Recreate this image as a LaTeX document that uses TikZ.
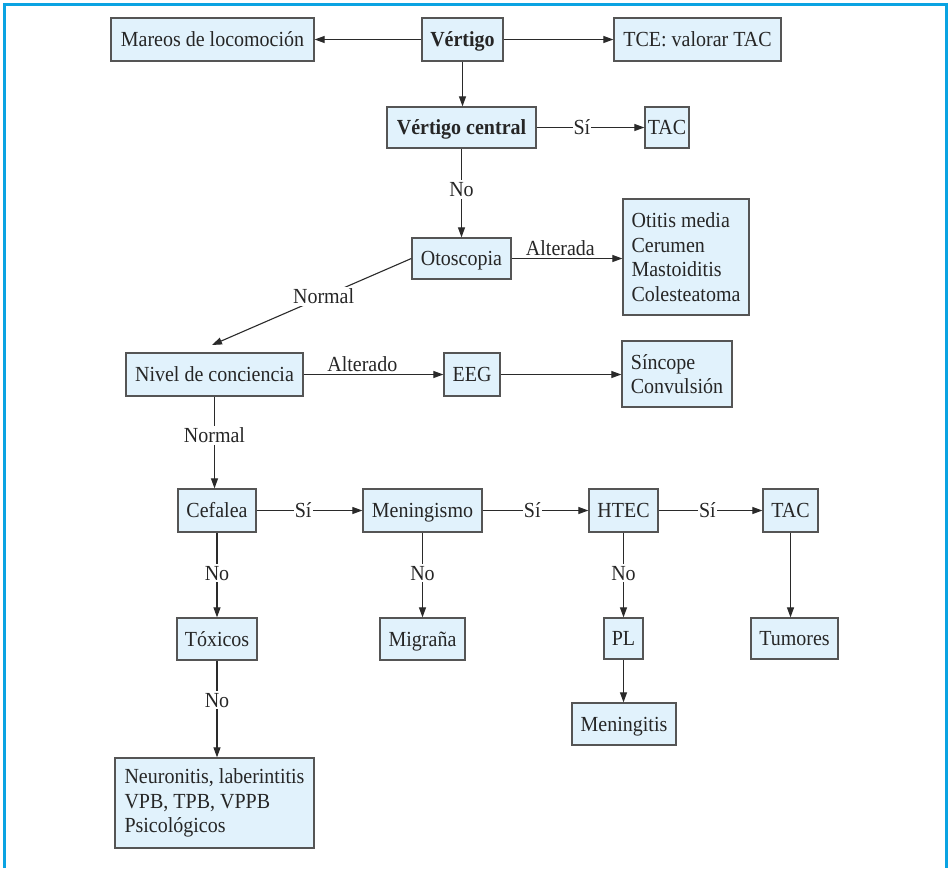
\documentclass[tikz,border=0pt]{standalone}
\usepackage{fontspec}
\setmainfont{Liberation Serif}[FakeStretch=0.93]
\usetikzlibrary{arrows.meta}
\definecolor{boxfill}{HTML}{E1F2FC}
\definecolor{boxline}{HTML}{555555}
\definecolor{frameblue}{HTML}{0AA3E2}
\definecolor{linecol}{HTML}{2A2A2A}
\begin{document}
\begin{tikzpicture}[x=1pt,y=-1pt,
  txt/.style={font=\fontsize{21.5}{24.5}\selectfont, text=black!85},
  frame/.style={txt, draw=boxline, line width=1.3pt, fill=boxfill, inner xsep=2pt, inner ysep=2pt},
  box/.style={frame, align=left},
  sbox/.style={frame, text height=14pt, text depth=0pt},
  lbl/.style={txt, fill=white, inner xsep=1pt, inner ysep=2pt},
  conn/.style={draw=linecol, line width=1.1pt},
  arr/.style={conn, -{Triangle[length=10pt,width=7pt]}}]
\useasboundingbox (0,0) rectangle (952,868);
\fill[white] (0,0) rectangle (952,868);
\draw[frameblue, line width=3pt] (4.5,868) -- (4.5,4) -- (946.5,4) -- (946.5,868);

% nodes
\node[sbox, minimum width=203pt, minimum height=43pt] (mareos) at (212.5,39.5) {Mareos de locomoción};
\node[sbox, minimum width=81pt, minimum height=43pt] (vertigo) at (462.5,39.5) {\bfseries Vértigo};
\node[sbox, minimum width=167pt, minimum height=43pt] (tce) at (697.5,39.5) {TCE: valorar TAC};
\node[sbox, minimum width=149pt, minimum height=41pt] (vcentral) at (461.5,127.5) {\bfseries Vértigo central};
\node[sbox, minimum width=44pt, minimum height=41pt] (tac1) at (667,127.5) {TAC};
\node[sbox, minimum width=99pt, minimum height=41pt] (otoscopia) at (461.5,258.5) {Otoscopia};
\node[box, minimum width=126pt, minimum height=116pt] (otitis) at (686,257) {Otitis media\\Cerumen\\Mastoiditis\\Colesteatoma};
\node[sbox, minimum width=177pt, minimum height=43pt] (nivel) at (214.5,374.5) {Nivel de conciencia};
\node[sbox, minimum width=56pt, minimum height=43pt] (eeg) at (472,374.5) {EEG};
\node[box, minimum width=110pt, minimum height=66pt] (sincope) at (677,374) {Síncope\\Convulsión};
\node[sbox, minimum width=78pt, minimum height=43pt] (cefalea) at (217,510.5) {Cefalea};
\node[sbox, minimum width=119pt, minimum height=43pt] (meningismo) at (422.5,510.5) {Meningismo};
\node[sbox, minimum width=69pt, minimum height=43pt] (htec) at (623.5,510.5) {HTEC};
\node[sbox, minimum width=55pt, minimum height=43pt] (tac2) at (790.5,510.5) {TAC};
\node[sbox, minimum width=80pt, minimum height=42pt] (toxicos) at (217,639) {Tóxicos};
\node[sbox, minimum width=85pt, minimum height=42pt] (migrana) at (422.5,639) {Migraña};
\node[sbox, minimum width=39pt, minimum height=41pt] (pl) at (623.5,638.5) {PL};
\node[sbox, minimum width=87pt, minimum height=41pt] (tumores) at (794.5,638.5) {Tumores};
\node[sbox, minimum width=104pt, minimum height=42pt] (meningitis) at (624,724) {Meningitis};
\node[box, minimum width=199pt, minimum height=90pt] (neuro) at (214.5,803) {Neuronitis, laberintitis\\VPB, TPB, VPPB\\Psicológicos};

\coordinate (nivtop) at (212,345);

% connectors
\draw[arr] (vertigo.west) -- (mareos.east);
\draw[arr] (vertigo.east) -- (tce.west);
\draw[arr] (vertigo.south) -- (vertigo.south |- vcentral.north);
\draw[arr] (vcentral.east) -- node[lbl, pos=.42] {Sí} (tac1.west);
\draw[arr] (vcentral.south) -- node[lbl, pos=.46] {No} (vcentral.south |- otoscopia.north);
\draw[arr] (otoscopia.east) -- node[txt, pos=.44, above, inner sep=2pt] {Alterada} (otoscopia.east -| otitis.west);
\draw[arr] (otoscopia.west) -- node[lbl, pos=.44] {Normal} (nivtop);
\draw[arr] (nivel.east) -- node[txt, pos=.42, above, inner sep=2pt] {Alterado} (eeg.west);
\draw[arr] (eeg.east) -- (eeg.east -| sincope.west);
\draw[arr] (nivel.south) -- node[lbl, pos=.42] {Normal} (nivel.south |- cefalea.north);
\draw[arr] (cefalea.east) -- node[lbl, pos=.44] {Sí} (meningismo.west);
\draw[arr] (meningismo.east) -- node[lbl, pos=.47] {Sí} (htec.west);
\draw[arr] (htec.east) -- node[lbl, pos=.47] {Sí} (tac2.west);
\draw[arr] (cefalea.south) -- node[lbl, pos=.48] {No} (cefalea.south |- toxicos.north);
\draw[arr] (meningismo.south) -- node[lbl, pos=.48] {No} (meningismo.south |- migrana.north);
\draw[arr] (htec.south) -- node[lbl, pos=.48] {No} (htec.south |- pl.north);
\draw[arr] (pl.south) -- (pl.south |- meningitis.north);
\draw[arr] (tac2.south) -- (tac2.south |- tumores.north);
\draw[arr] (toxicos.south) -- node[lbl, pos=.41] {No} (toxicos.south |- neuro.north);
\end{tikzpicture}
\end{document}
